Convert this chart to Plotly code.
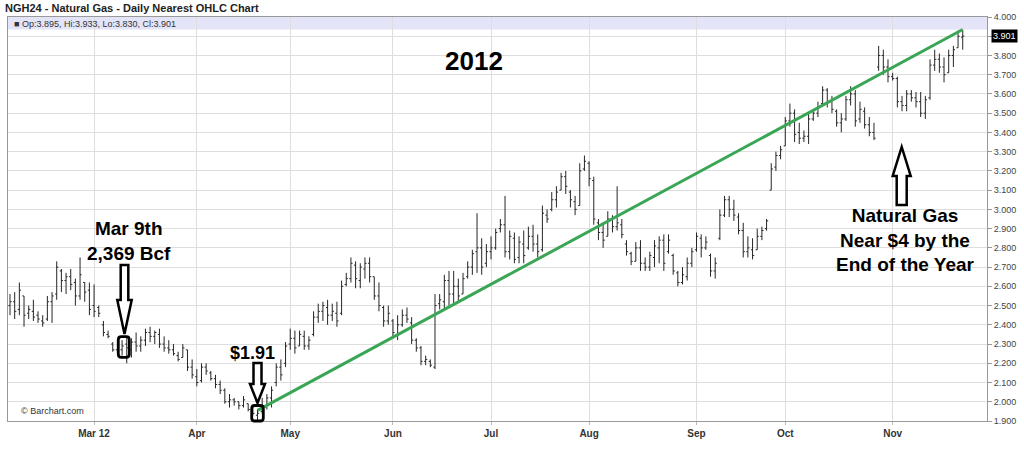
import pandas as pd
import plotly.graph_objects as go

# ---------------- data ----------------
HOLIDAYS = ["2012-02-20", "2012-04-06", "2012-05-28", "2012-07-04", "2012-09-03", "2012-11-22"]
FIRST_DAY = "2012-02-03"
LAST_DAY = "2012-11-23"

OPEN = [
    2.50, 2.52, 2.48, 2.55, 2.46, 2.47, 2.45, 2.42, 2.43, 2.52,
    2.56, 2.68, 2.63, 2.65, 2.62, 2.55, 2.62, 2.58, 2.50, 2.49,
    2.40, 2.35, 2.30, 2.27, 2.27, 2.30, 2.27, 2.31, 2.29, 2.32,
    2.36, 2.34, 2.35, 2.30, 2.28, 2.27, 2.24, 2.23, 2.27, 2.18,
    2.13, 2.11, 2.18, 2.15, 2.12, 2.09, 2.06, 2.00, 2.01, 2.00,
    1.98, 1.99, 1.96, 1.93, 1.95, 1.98, 2.02, 2.10, 2.18, 2.20,
    2.30, 2.33, 2.29, 2.34, 2.29, 2.35, 2.44, 2.47, 2.49, 2.45,
    2.46, 2.46, 2.61, 2.64, 2.71, 2.63, 2.69, 2.72, 2.65, 2.55,
    2.49, 2.42, 2.42, 2.35, 2.40, 2.45, 2.41, 2.32, 2.28, 2.21,
    2.21, 2.18, 2.51, 2.52, 2.63, 2.56, 2.60, 2.56, 2.65, 2.70,
    2.78, 2.80, 2.72, 2.78, 2.80, 2.90, 2.92, 2.78, 2.85, 2.75,
    2.82, 2.80, 2.86, 2.82, 2.79, 2.97, 3.00, 3.05, 3.10, 3.17,
    3.09, 3.04, 3.02, 3.21, 3.24, 3.15, 2.93, 2.88, 2.86, 2.95,
    2.91, 2.92, 2.82, 2.77, 2.73, 2.80, 2.72, 2.70, 2.75, 2.80,
    2.84, 2.78, 2.76, 2.67, 2.62, 2.65, 2.72, 2.79, 2.85, 2.80,
    2.76, 2.68, 2.85, 2.97, 3.05, 3.00, 2.96, 2.89, 2.78, 2.79,
    2.79, 2.86, 2.90, 3.10, 3.22, 3.28, 3.33, 3.46, 3.50, 3.40,
    3.37, 3.38, 3.47, 3.50, 3.55, 3.62, 3.56, 3.51, 3.45, 3.47,
    3.57, 3.60, 3.47, 3.51, 3.44, 3.40, 3.74, 3.80, 3.74, 3.69,
    3.68, 3.56, 3.54, 3.60, 3.58, 3.56, 3.50, 3.58, 3.75, 3.78,
    3.74, 3.71, 3.80, 3.84, 3.895,
]
HIGH = [
    2.56, 2.57, 2.62, 2.55, 2.50, 2.53, 2.47, 2.45, 2.55, 2.57,
    2.73, 2.69, 2.67, 2.69, 2.64, 2.75, 2.62, 2.62, 2.61, 2.50,
    2.42, 2.37, 2.31, 2.32, 2.32, 2.34, 2.33, 2.36, 2.34, 2.38,
    2.39, 2.37, 2.38, 2.34, 2.32, 2.30, 2.26, 2.30, 2.27, 2.22,
    2.17, 2.20, 2.20, 2.16, 2.14, 2.11, 2.07, 2.04, 2.02, 2.00,
    2.03, 1.99, 1.97, 1.96, 2.02, 2.04, 2.08, 2.20, 2.22, 2.31,
    2.38, 2.37, 2.37, 2.37, 2.34, 2.47, 2.51, 2.52, 2.53, 2.51,
    2.52, 2.63, 2.67, 2.75, 2.73, 2.72, 2.75, 2.75, 2.65, 2.62,
    2.50, 2.50, 2.43, 2.45, 2.48, 2.49, 2.44, 2.33, 2.29, 2.24,
    2.22, 2.56, 2.56, 2.66, 2.68, 2.68, 2.64, 2.67, 2.73, 2.79,
    2.98, 2.85, 2.82, 2.86, 2.90, 2.95, 3.07, 2.89, 2.88, 2.86,
    2.89, 2.91, 2.92, 2.87, 3.02, 3.00, 3.09, 3.12, 3.19, 3.20,
    3.10, 3.07, 3.24, 3.28, 3.25, 3.17, 2.95, 2.93, 2.99, 2.97,
    3.12, 2.95, 2.84, 2.78, 2.83, 2.84, 2.75, 2.78, 2.84, 2.86,
    2.87, 2.87, 2.77, 2.68, 2.70, 2.75, 2.80, 2.88, 2.87, 2.86,
    2.77, 2.75, 3.00, 3.07, 3.07, 3.05, 2.98, 2.93, 2.86, 2.85,
    2.90, 2.91, 2.95, 3.24, 3.30, 3.33, 3.48, 3.55, 3.52, 3.45,
    3.41, 3.50, 3.52, 3.56, 3.64, 3.63, 3.59, 3.52, 3.50, 3.59,
    3.64, 3.62, 3.56, 3.53, 3.48, 3.45, 3.85, 3.83, 3.78, 3.71,
    3.69, 3.59, 3.62, 3.62, 3.61, 3.61, 3.59, 3.78, 3.83, 3.81,
    3.79, 3.83, 3.85, 3.93, 3.933,
]
LOW = [
    2.45, 2.43, 2.45, 2.39, 2.43, 2.42, 2.41, 2.39, 2.42, 2.41,
    2.53, 2.57, 2.56, 2.58, 2.50, 2.53, 2.52, 2.45, 2.44, 2.44,
    2.34, 2.33, 2.26, 2.25, 2.24, 2.20, 2.23, 2.26, 2.26, 2.29,
    2.31, 2.30, 2.28, 2.26, 2.25, 2.24, 2.21, 2.23, 2.16, 2.12,
    2.08, 2.10, 2.14, 2.11, 2.07, 2.04, 1.99, 1.97, 1.98, 1.96,
    1.97, 1.95, 1.93, 1.902, 1.94, 1.96, 1.97, 2.08, 2.11, 2.18,
    2.27, 2.25, 2.29, 2.27, 2.27, 2.34, 2.41, 2.42, 2.40, 2.42,
    2.39, 2.45, 2.60, 2.62, 2.59, 2.59, 2.64, 2.62, 2.53, 2.47,
    2.39, 2.40, 2.33, 2.32, 2.39, 2.41, 2.30, 2.26, 2.19, 2.19,
    2.18, 2.17, 2.48, 2.48, 2.50, 2.51, 2.52, 2.56, 2.64, 2.66,
    2.67, 2.66, 2.70, 2.74, 2.79, 2.88, 2.75, 2.74, 2.72, 2.72,
    2.72, 2.79, 2.78, 2.75, 2.78, 2.93, 2.99, 3.01, 3.10, 3.08,
    3.01, 2.97, 3.02, 3.20, 3.12, 2.92, 2.84, 2.80, 2.86, 2.88,
    2.89, 2.85, 2.76, 2.71, 2.73, 2.68, 2.68, 2.68, 2.70, 2.72,
    2.68, 2.77, 2.66, 2.60, 2.61, 2.63, 2.70, 2.78, 2.75, 2.79,
    2.65, 2.64, 2.84, 2.96, 2.96, 2.94, 2.87, 2.75, 2.75, 2.74,
    2.79, 2.84, 2.89, 3.10, 3.20, 3.26, 3.33, 3.43, 3.35, 3.34,
    3.35, 3.34, 3.46, 3.48, 3.54, 3.53, 3.50, 3.43, 3.40, 3.46,
    3.54, 3.43, 3.45, 3.42, 3.38, 3.36, 3.72, 3.70, 3.66, 3.67,
    3.53, 3.51, 3.51, 3.56, 3.53, 3.48, 3.47, 3.57, 3.72, 3.71,
    3.66, 3.71, 3.74, 3.84, 3.830,
]
CLOSE = [
    2.52, 2.47, 2.58, 2.45, 2.48, 2.44, 2.43, 2.41, 2.52, 2.55,
    2.70, 2.63, 2.65, 2.61, 2.55, 2.66, 2.57, 2.48, 2.47, 2.46,
    2.36, 2.34, 2.27, 2.29, 2.29, 2.28, 2.31, 2.29, 2.32, 2.36,
    2.34, 2.36, 2.30, 2.28, 2.27, 2.25, 2.22, 2.28, 2.18, 2.14,
    2.10, 2.18, 2.16, 2.12, 2.09, 2.06, 2.00, 2.01, 2.00, 1.98,
    2.01, 1.96, 1.94, 1.94, 1.98, 2.02, 2.06, 2.18, 2.14, 2.29,
    2.33, 2.28, 2.35, 2.29, 2.32, 2.44, 2.47, 2.50, 2.45, 2.47,
    2.42, 2.60, 2.64, 2.72, 2.64, 2.70, 2.72, 2.65, 2.55, 2.50,
    2.42, 2.46, 2.36, 2.40, 2.45, 2.43, 2.32, 2.28, 2.21, 2.22,
    2.19, 2.50, 2.53, 2.63, 2.56, 2.60, 2.55, 2.64, 2.70, 2.77,
    2.80, 2.70, 2.78, 2.80, 2.88, 2.92, 2.78, 2.86, 2.74, 2.83,
    2.76, 2.86, 2.82, 2.78, 2.98, 2.95, 3.05, 3.09, 3.17, 3.12,
    3.05, 3.00, 3.20, 3.25, 3.16, 2.95, 2.88, 2.84, 2.95, 2.91,
    2.93, 2.87, 2.78, 2.73, 2.80, 2.72, 2.70, 2.76, 2.81, 2.84,
    2.72, 2.84, 2.68, 2.62, 2.66, 2.72, 2.78, 2.86, 2.80, 2.83,
    2.68, 2.72, 2.97, 3.05, 3.00, 2.97, 2.89, 2.78, 2.80, 2.76,
    2.86, 2.89, 2.94, 3.21, 3.28, 3.31, 3.46, 3.50, 3.39, 3.37,
    3.38, 3.47, 3.50, 3.53, 3.62, 3.56, 3.52, 3.45, 3.47, 3.57,
    3.60, 3.46, 3.52, 3.44, 3.40, 3.37, 3.80, 3.74, 3.69, 3.68,
    3.56, 3.54, 3.60, 3.58, 3.56, 3.50, 3.57, 3.75, 3.78, 3.74,
    3.70, 3.80, 3.83, 3.90, 3.901,
]

MONTH_TICKS = ["2012-03-01", "2012-04-02", "2012-05-01", "2012-06-01", "2012-07-02",
               "2012-08-01", "2012-09-04", "2012-10-01", "2012-11-01"]
MONTH_LABELS = ["Mar 12", "Apr", "May", "Jun", "Jul", "Aug", "Sep", "Oct", "Nov"]

TREND_DATES = ["2012-04-20", "2012-11-23"]
TREND_PRICES = [1.955, 3.935]

LAST = {"op": 3.895, "hi": 3.933, "lo": 3.830, "cl": 3.901}

# trading calendar (weekdays minus exchange holidays)
DATES = [d.strftime("%Y-%m-%d") for d in pd.bdate_range(FIRST_DAY, LAST_DAY)
         if d.strftime("%Y-%m-%d") not in HOLIDAYS]
assert len(DATES) == len(OPEN) == len(HIGH) == len(LOW) == len(CLOSE)

# ---------------- layout helpers ----------------
W, H = 1024, 456
ML, MR, MT, MB = 8, 37, 17, 35
PW, PH = W - ML - MR, H - MT - MB
FONT = "Liberation Sans, Arial, sans-serif"


def px(x):
    return (x - ML) / PW


def py(y):
    return (H - MB - y) / PH


def path(points):
    return "M " + " L ".join(f"{px(x):.5f},{py(y):.5f}" for x, y in points) + " Z"


def block_arrow(cx, base, neck, tip, shaft_half, head_half):
    return path([(cx - shaft_half, base), (cx + shaft_half, base), (cx + shaft_half, neck),
                 (cx + head_half, neck), (cx, tip), (cx - head_half, neck),
                 (cx - shaft_half, neck)])


def rounded_box(x0, y0, x1, y1, r=3):
    def P(x, y):
        return f"{px(x):.5f},{py(y):.5f}"
    return (f"M {P(x0 + r, y0)} L {P(x1 - r, y0)} Q {P(x1, y0)} {P(x1, y0 + r)} "
            f"L {P(x1, y1 - r)} Q {P(x1, y1)} {P(x1 - r, y1)} L {P(x0 + r, y1)} "
            f"Q {P(x0, y1)} {P(x0, y1 - r)} L {P(x0, y0 + r)} Q {P(x0, y0)} {P(x0 + r, y0)} Z")


# ---------------- figure ----------------
fig = go.Figure()
fig.add_trace(go.Ohlc(
    x=DATES, open=OPEN, high=HIGH, low=LOW, close=CLOSE,
    increasing=dict(line=dict(color="#262626", width=1)),
    decreasing=dict(line=dict(color="#262626", width=1)),
    tickwidth=0.35, showlegend=False, hoverinfo="skip",
))
fig.add_trace(go.Scatter(
    x=TREND_DATES, y=TREND_PRICES, mode="lines",
    line=dict(color="#3aa655", width=3), showlegend=False, hoverinfo="skip",
))

shapes = [
    # legend band at the top of the plot
    dict(type="rect", xref="paper", yref="paper", x0=0, x1=1, y0=py(29.5), y1=1,
         fillcolor="#e4e4f8", line=dict(width=0), layer="below"),
]
arrow_style = dict(type="path", xref="paper", yref="paper", fillcolor="white",
                   line=dict(color="black", width=2.5), layer="above")
shapes.append(dict(path=block_arrow(124.5, 265, 300, 334, 3.8, 7.2), **arrow_style))
shapes.append(dict(path=block_arrow(257.5, 363, 384, 403, 4.0, 7.5), **arrow_style))
shapes.append(dict(path=block_arrow(901.7, 205, 176, 147, 5.0, 9.0), **arrow_style))
box_style = dict(type="path", xref="paper", yref="paper", fillcolor="rgba(0,0,0,0)",
                 line=dict(color="black", width=2.8), layer="above")
shapes.append(dict(path=rounded_box(118.3, 336.7, 129.3, 357.3), **box_style))
shapes.append(dict(path=rounded_box(251.7, 405.5, 263.3, 421.0), **box_style))

big = dict(family=FONT, color="black")
annotations = [
    dict(text="<b>NGH24 - Natural Gas - Daily Nearest OHLC Chart</b>", x=px(3), y=py(8),
         xanchor="left", yanchor="middle", font=dict(family=FONT, size=11, color="#222")),
    dict(text=f"■ Op:{LAST['op']:.3f}, Hi:{LAST['hi']:.3f}, Lo:{LAST['lo']:.3f}, Cl:{LAST['cl']:.3f}",
         x=px(12), y=py(24), xanchor="left", yanchor="middle",
         font=dict(family=FONT, size=9, color="#333")),
    dict(text="<b>2012</b>", x=px(474), y=py(61), xanchor="center", yanchor="middle",
         font=dict(size=26, **big)),
    dict(text="<b>Mar 9th<br>2,369 Bcf</b>", x=px(129), y=py(241), xanchor="center",
         yanchor="middle", font=dict(size=19, **big)),
    dict(text="<b>$1.91</b>", x=px(252), y=py(353), xanchor="center", yanchor="middle",
         font=dict(size=18, **big)),
    dict(text="<b>Natural Gas<br>Near $4 by the<br>End of the Year</b>", x=px(905), y=py(240),
         xanchor="center", yanchor="middle", font=dict(size=19, **big)),
    dict(text="© Barchart.com", x=px(19), y=py(411), xanchor="left", yanchor="middle",
         font=dict(family=FONT, size=9, color="#333")),
    dict(text=f"{LAST['cl']:.3f}", xref="paper", yref="y", x=1, y=LAST["cl"], xanchor="left",
         yanchor="middle", xshift=4, bgcolor="black", borderpad=1,
         font=dict(family=FONT, size=9, color="white")),
]
for a in annotations:
    a.setdefault("xref", "paper")
    a.setdefault("yref", "paper")
    a.setdefault("showarrow", False)

fig.update_layout(
    width=W, height=H,
    margin=dict(l=ML, r=MR, t=MT, b=MB, pad=0),
    paper_bgcolor="white", plot_bgcolor="white",
    font=dict(family=FONT, size=9, color="#333"),
    showlegend=False,
    shapes=shapes, annotations=annotations,
    xaxis=dict(
        type="category", range=[-0.43, len(DATES) - 1 + 5.2],
        tickmode="array", tickvals=MONTH_TICKS, ticktext=MONTH_LABELS,
        tickfont=dict(family=FONT, size=10, color="#333", weight="bold"),
        ticks="outside", ticklen=3, tickcolor="#bbb",
        showgrid=True, gridcolor="#dedede", gridwidth=1,
        showline=True, linecolor="#999", linewidth=1, mirror=True,
        rangeslider=dict(visible=False), fixedrange=True,
    ),
    yaxis=dict(
        side="right", range=[1.9, 4.0], dtick=0.1, tick0=1.9, tickformat=".3f",
        tickfont=dict(family=FONT, size=9, color="#444"),
        ticks="outside", ticklen=4, tickcolor="#999",
        showgrid=True, gridcolor="#dedede", gridwidth=1,
        showline=True, linecolor="#999", linewidth=1, mirror=True,
        zeroline=False, fixedrange=True,
    ),
)

# remove the browser's default 8px page margin so the figure sits at the window origin
fig.write_html("out.html", config={"displayModeBar": False, "staticPlot": True},
               post_script="document.body.style.margin='0';")
